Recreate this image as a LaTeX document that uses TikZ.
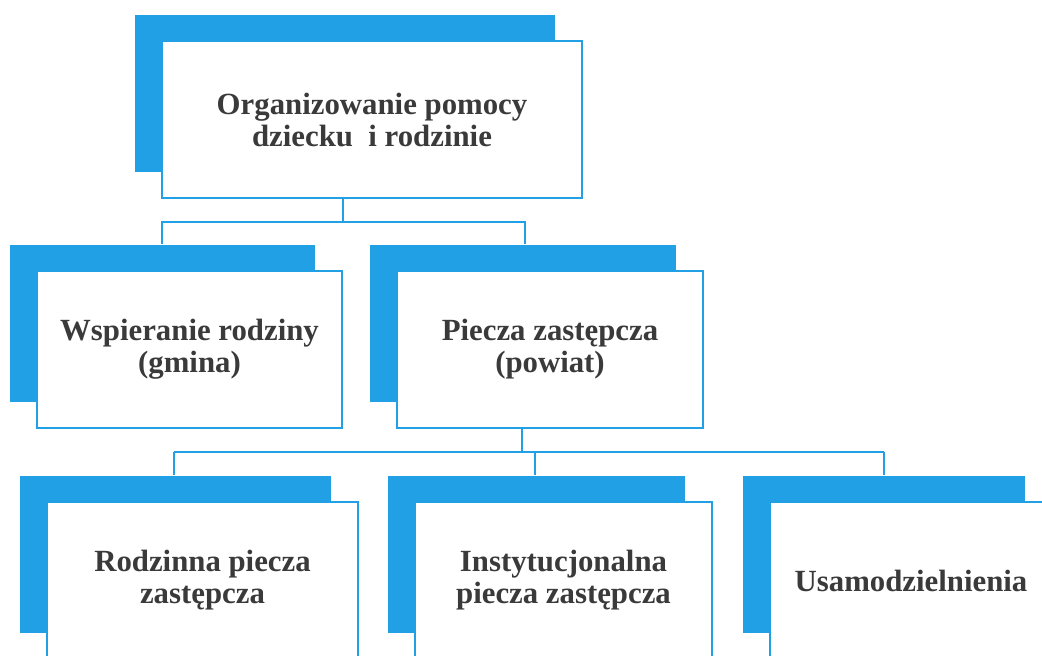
\documentclass[tikz,border=0pt]{standalone}
\usepackage{fontspec}
\setmainfont{Liberation Serif}
\usetikzlibrary{shadows}
\definecolor{boxblue}{RGB}{34,160,230}
\definecolor{inkgray}{RGB}{58,58,58}
\tikzset{
	orgbox/.style={draw=boxblue, line width=2pt, fill=white, align=center, inner sep=0pt,
		minimum height=157pt, text=inkgray, font=\fontsize{30.8}{32}\selectfont\bfseries,
		copy shadow={shadow xshift=-27pt, shadow yshift=26pt, fill=boxblue, draw=none}},
	link/.style={draw=boxblue, line width=1.8pt}
}
\begin{document}
\begin{tikzpicture}[x=1pt, y=-1pt]
	\useasboundingbox (0,0) rectangle (1042,656);
	\clip (0,0) rectangle (1042,656);
	% top box
	\node[orgbox, minimum width=420pt] (top) at (372,119.5) {Organizowanie pomocy\\dziecku~~i rodzinie};
	% middle row
	\node[orgbox, minimum width=305pt] (midL) at (189.5,349.5) {Wspieranie rodziny\\(gmina)};
	\node[orgbox, minimum width=306pt] (midR) at (550,349.5) {Piecza zastępcza\\(powiat)};
	% bottom row
	\node[orgbox, minimum width=311pt] (botL) at (202.5,580.5) {Rodzinna piecza\\zastępcza};
	\node[orgbox, minimum width=297pt] (botM) at (563.5,580.5) {Instytucjonalna\\piecza zastępcza};
	\node[orgbox, minimum width=282pt] (botR) at (911,580.5) {Usamodzielnienia};
	% connectors top -> middle
	\coordinate (fork1) at (343,222);
	\coordinate (fork1a) at (162,222);
	\coordinate (fork1b) at (525,222);
	\draw[link] (top.south -| fork1) -- (fork1);
	\draw[link] ([yshift=26pt]midL.north -| fork1a) -- (fork1a) -- (fork1b) -- ([yshift=26pt]midR.north -| fork1b);
	% connectors middle -> bottom
	\coordinate (fork2) at (522,452);
	\coordinate (rowL) at (174,452);
	\coordinate (rowM) at (535,452);
	\coordinate (rowR) at (884,452);
	\draw[link] (midR.south -| fork2) -- (fork2);
	\draw[link] (rowL) -- (rowR);
	\foreach \k/\n in {rowL/botL, rowM/botM, rowR/botR}
	{
		\draw[link] (\k) -- ([yshift=26pt]\n.north -| \k);
	}
\end{tikzpicture}
\end{document}
